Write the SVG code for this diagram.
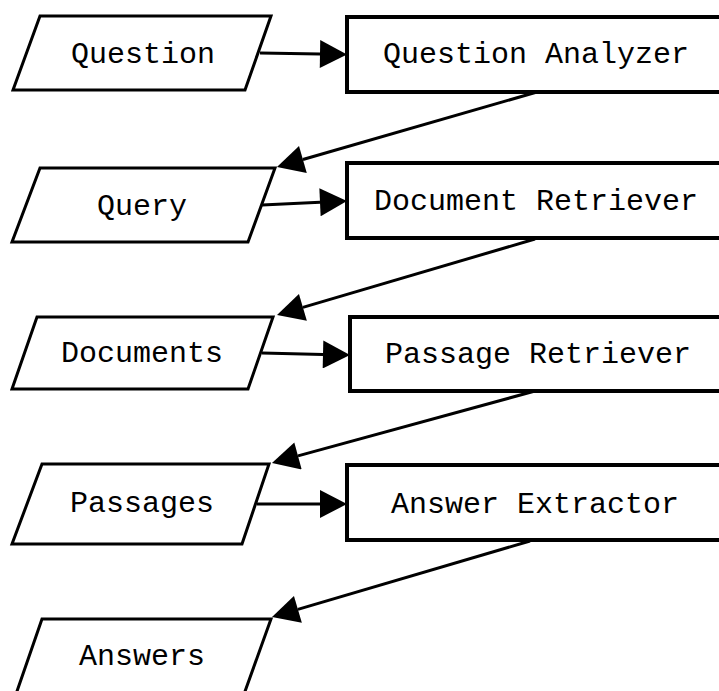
<svg xmlns="http://www.w3.org/2000/svg" width="719" height="691" viewBox="0 0 719 691">
<defs>
<style>
.data{fill:#fff;stroke:#000;stroke-width:3;stroke-linejoin:miter}
.proc{fill:#fff;stroke:#000;stroke-width:4}
.lbl{font-family:"Liberation Mono","Courier New",monospace;font-size:30px;fill:#000;text-anchor:middle}
.edge{fill:none;stroke:#000;stroke-width:3}
</style>
<marker id="ah" markerUnits="userSpaceOnUse" markerWidth="28" markerHeight="28" viewBox="0 0 27 28" refX="0" refY="14" orient="auto">
<path d="M0,0 L27,14 L0,28 z" fill="#000"/>
</marker>
</defs>
<rect width="719" height="691" fill="#fff"/>
<g id="question"><polygon class="data" points="40,16 271,16 245,90 13,90"/><text class="lbl" x="143" y="63">Question</text></g>
<g id="query"><polygon class="data" points="40,168 275,168 248,242 12,242"/><text class="lbl" x="142" y="215">Query</text></g>
<g id="documents"><polygon class="data" points="37,317 273,317 248,389 12,389"/><text class="lbl" x="142" y="362">Documents</text></g>
<g id="passages"><polygon class="data" points="42,464 269,464 242,544 12,544"/><text class="lbl" x="142" y="512">Passages</text></g>
<g id="answers"><polygon class="data" points="42,619 271,619 243,697 15,697"/><text class="lbl" x="142" y="665">Answers</text></g>
<g id="question-analyzer"><rect class="proc" x="347" y="17" width="380" height="75"/><text class="lbl" x="536" y="63">Question Analyzer</text></g>
<g id="document-retriever"><rect class="proc" x="347" y="163" width="380" height="75"/><text class="lbl" x="536" y="210">Document Retriever</text></g>
<g id="passage-retriever"><rect class="proc" x="350" y="317" width="380" height="74"/><text class="lbl" x="538" y="363">Passage Retriever</text></g>
<g id="answer-extractor"><rect class="proc" x="347" y="465" width="380" height="75"/><text class="lbl" x="535" y="513">Answer Extractor</text></g>
<g id="connectors">
<path class="edge" d="M260,53 L320,54" marker-end="url(#ah)"/>
<path class="edge" d="M262,205 L320,202.3" marker-end="url(#ah)"/>
<path class="edge" d="M262,353 L323,354.4" marker-end="url(#ah)"/>
<path class="edge" d="M257,504 L320,504" marker-end="url(#ah)"/>
<path class="edge" d="M537,92 L302.9,159.5" marker-end="url(#ah)"/>
<path class="edge" d="M535,239 L302.9,307.4" marker-end="url(#ah)"/>
<path class="edge" d="M535,391 L298,455.9" marker-end="url(#ah)"/>
<path class="edge" d="M530,541 L297.9,609.4" marker-end="url(#ah)"/>
</g>
</svg>
